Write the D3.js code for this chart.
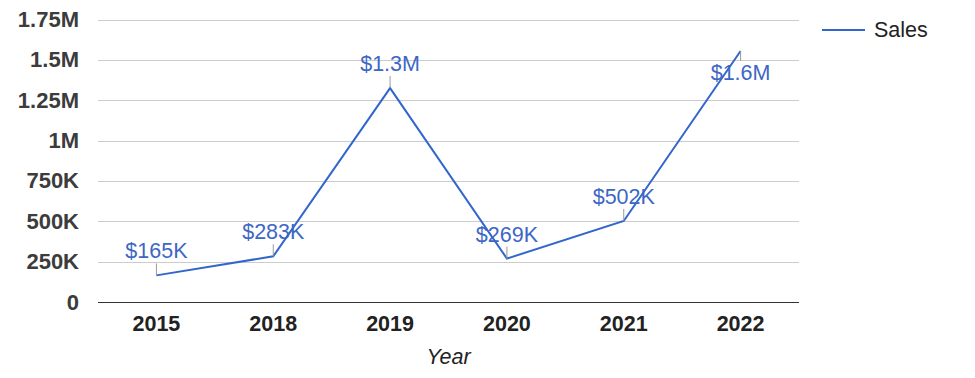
<!DOCTYPE html>
<html lang="en">
<head>
    <meta charset="utf-8">
    <title>Sales by Year</title>
    <script src="https://d3js.org/d3.v7.min.js"></script>
    <style>
        body { margin: 0; background: #fff; font-family: Arial, "Liberation Sans", sans-serif; }
        .grid line { stroke: #cccccc; }
        .tick text { font-family: Arial, "Liberation Sans", sans-serif; }
    </style>
</head>
<body>
<script>
    var years = ["2015", "2018", "2019", "2020", "2021", "2022"];
    var sales = [165000, 283000, 1325000, 269000, 502000, 1555000];
    var yTicks = [0, 250000, 500000, 750000, 1000000, 1250000, 1500000, 1750000];
    var tickLabels = ["0", "250K", "500K", "750K", "1M", "1.25M", "1.5M", "1.75M"];
    var pointLabels = ["$165K", "$283K", "$1.3M", "$269K", "$502K", "$1.6M"];

    var w = 975, h = 378;
    var plotLeft = 98, plotRight = 799, plotTop = 19.5, plotBottom = 302;
    var lineColor = "#3366cc";
    var fs = 21.5;

    var svg = d3.select("body").append("svg")
        .attr("width", w).attr("height", h);

    var xScale = d3.scaleBand().domain(years).range([plotLeft, plotRight]);
    var yScale = d3.scaleLinear().domain([0, 1750000]).range([plotBottom, plotTop]);

    //gridlines
    svg.append("g").attr("class", "grid")
        .selectAll("line")
        .data(yTicks.slice(1))
        .enter().append("line")
        .attr("x1", plotLeft).attr("x2", plotRight)
        .attr("y1", function(d) { return Math.round(yScale(d)) + 0.5; })
        .attr("y2", function(d) { return Math.round(yScale(d)) + 0.5; });

    //baseline
    svg.append("line")
        .attr("x1", plotLeft).attr("x2", plotRight)
        .attr("y1", Math.round(yScale(0)) + 0.5).attr("y2", Math.round(yScale(0)) + 0.5)
        .attr("stroke", "#333").attr("stroke-width", 1.2);

    //y axis labels
    var yAxis = d3.axisLeft(yScale).tickValues(yTicks)
        .tickFormat(function(d, i) { return tickLabels[i]; })
        .tickSize(0).tickPadding(19);
    svg.append("g")
        .attr("transform", "translate(" + plotLeft + ",0)")
        .call(yAxis)
        .call(function(g) { g.select(".domain").remove(); })
        .selectAll("text")
        .attr("font-size", 22).attr("font-weight", "bold").attr("fill", "#3c3c3c");

    //x axis labels
    var xAxis = d3.axisBottom(xScale).tickSize(0).tickPadding(14);
    svg.append("g")
        .attr("transform", "translate(0," + plotBottom + ")")
        .call(xAxis)
        .call(function(g) { g.select(".domain").remove(); })
        .selectAll("text")
        .attr("font-size", fs).attr("font-weight", "bold").attr("fill", "#222");

    svg.append("text")
        .attr("x", (plotLeft + plotRight) / 2).attr("y", 364)
        .attr("text-anchor", "middle")
        .attr("font-size", fs).attr("font-style", "italic").attr("fill", "#222")
        .text("Year");

    //line
    var line = d3.line()
        .x(function(d, i) { return xScale(years[i]) + xScale.bandwidth() / 2; })
        .y(function(d) { return yScale(d); });

    svg.append("path")
        .datum(sales)
        .attr("d", line)
        .attr("fill", "none")
        .attr("stroke", lineColor)
        .attr("stroke-width", 2);

    //annotations: stem + label (placed below when near the top)
    var ann = svg.append("g").selectAll("g")
        .data(sales).enter().append("g")
        .attr("transform", function(d, i) {
            return "translate(" + (xScale(years[i]) + xScale.bandwidth() / 2) + "," + yScale(d) + ")";
        });

    ann.append("line")
        .attr("x1", 0).attr("x2", 0)
        .attr("y1", 0)
        .attr("y2", function(d) { return d > 1500000 ? 10 : -12; })
        .attr("stroke", "#999").attr("stroke-width", 1);

    ann.append("text")
        .attr("text-anchor", "middle")
        .attr("y", function(d) { return d > 1500000 ? 29 : -17; })
        .attr("font-size", fs).attr("fill", "#3d67c4")
        .text(function(d, i) { return pointLabels[i]; });

    //legend
    svg.append("line")
        .attr("x1", 822).attr("x2", 865).attr("y1", 30).attr("y2", 30)
        .attr("stroke", lineColor).attr("stroke-width", 2);
    svg.append("text")
        .attr("x", 874).attr("y", 37)
        .attr("font-size", fs).attr("fill", "#222")
        .text("Sales");
</script>
</body>
</html>
